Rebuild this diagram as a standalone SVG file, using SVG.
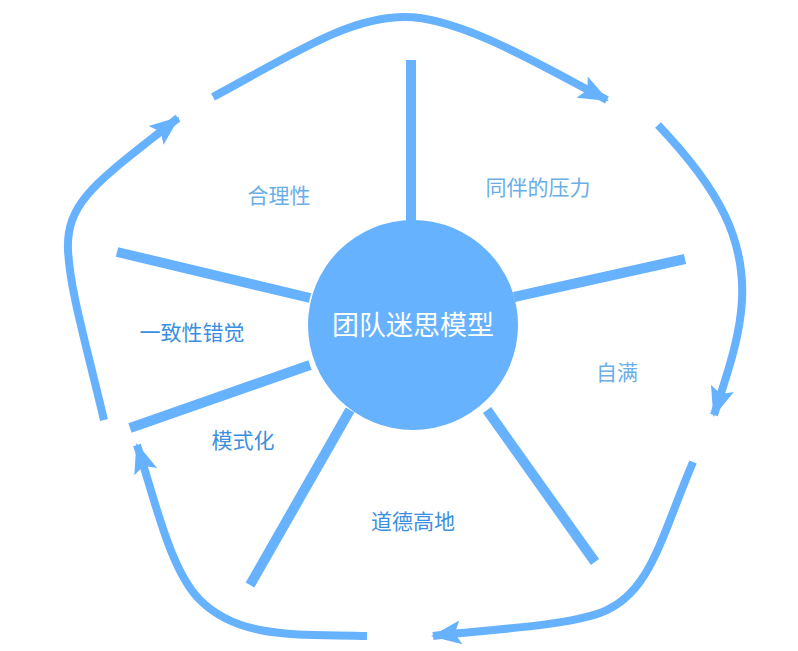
<svg xmlns="http://www.w3.org/2000/svg" width="798" height="651" viewBox="0 0 798 651">
<style>
.c{fill:none;stroke:#66b2ff;stroke-width:8}
.s{stroke:#66b2ff;stroke-width:10}
.t{font-family:"Liberation Sans","Noto Sans CJK SC",sans-serif;font-size:21px;text-anchor:middle}
.l{fill:#6aaee8}.d{fill:#3b8fe0}
</style>
<defs>
<marker id="a" markerUnits="userSpaceOnUse" viewBox="0 0 30 30" refX="28" refY="15" markerWidth="30" markerHeight="30" orient="auto">
<path d="M0,3 L30,15 L0,27 L6,15 Z" fill="#66b2ff"/>
</marker>
</defs>
<rect width="798" height="651" fill="#fff"/>
<g id="connectors">
<path class="c" marker-end="url(#a)" d="M213,97 C300,50 350,17 405,17 C460,17 540,65 607,100"/>
<path class="c" marker-end="url(#a)" d="M658,125 C720,190 745,240 742,300 C740,340 725,380 714,415"/>
<path class="c" marker-end="url(#a)" d="M693,462 C660,540 650,595 600,613 C560,627 480,630 433,636"/>
<path class="c" marker-end="url(#a)" d="M367,636 C300,634 240,640 200,600 C170,570 155,500 137,445"/>
<path class="c" marker-end="url(#a)" d="M104,420 C85,340 70,290 68,250 C66,200 100,180 178,118"/>
<line class="s" x1="411" y1="60" x2="411" y2="222"/>
<line class="s" x1="514" y1="297" x2="685" y2="259"/>
<line class="s" x1="487" y1="410" x2="595" y2="562"/>
<line class="s" x1="350" y1="410" x2="250" y2="585"/>
<line class="s" x1="310" y1="365" x2="130" y2="428"/>
<line class="s" x1="310" y1="298" x2="117" y2="252"/>
</g>
<g id="center"><circle cx="413" cy="325" r="105" fill="#66b2ff"/>
<text class="t" x="413" y="335" fill="#fff" font-size="27" style="font-size:27px">团队迷思模型</text></g>
<g id="n1"><text class="t l" x="279" y="203">合理性</text></g>
<g id="n2"><text class="t l" x="538" y="195">同伴的压力</text></g>
<g id="n3"><text class="t l" x="617" y="380">自满</text></g>
<g id="n4"><text class="t d" x="413" y="529">道德高地</text></g>
<g id="n5"><text class="t d" x="243" y="448">模式化</text></g>
<g id="n6"><text class="t d" x="192" y="340">一致性错觉</text></g>
</svg>
